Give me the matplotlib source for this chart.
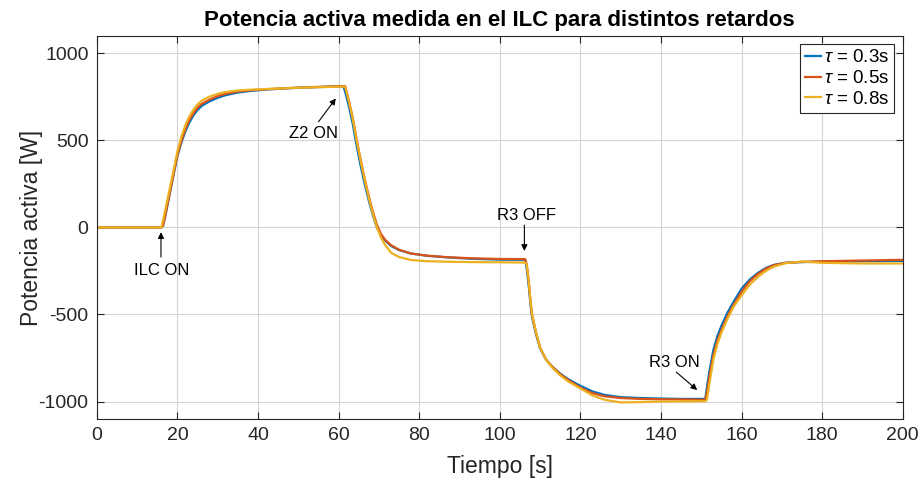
import matplotlib
matplotlib.use("Agg")
import matplotlib.pyplot as plt

plt.rcParams["font.family"] = ["Liberation Sans", "DejaVu Sans"]
plt.rcParams["mathtext.fontset"] = "custom"
plt.rcParams["mathtext.rm"] = "Liberation Sans"
plt.rcParams["mathtext.it"] = "Liberation Sans:italic"
plt.rcParams["axes.unicode_minus"] = False

# Time base shared by the three measurements [s]
time_s = [0, 16.0, 16.4, 17, 18, 19, 20, 21, 22, 23,
          24, 25, 26, 28, 30, 32, 35, 38, 42, 47,
          52, 57, 61.2, 61.6, 62.5, 63.5, 64.5, 65.5, 66.5, 67.5,
          68.5, 69.5, 70.5, 71.5, 73, 75, 78, 82, 87, 93, 100,
          106.3, 106.7, 107.2, 107.6, 108, 109, 110, 111.5, 113, 115,
          117, 120, 123, 126, 130, 135, 140, 145, 151.0, 151.4,
          152, 153, 154, 155, 156.5, 158, 160, 162, 164, 166,
          168, 171, 175, 180, 190, 200]

# Active power measured at the ILC [W]
p_tau_03 = [0, 0, 10, 70, 185, 300, 412, 490, 555, 605,
            645, 675, 698, 725, 745, 760, 775, 784, 792, 799,
            804, 808, 811, 780, 700, 595, 465, 350, 245, 152,
            70, 0, -45, -75, -106, -130, -150, -163, -172, -180, -185,
            -186, -240, -340, -440, -515, -615, -695, -760, -800, -840,
            -872, -910, -942, -962, -975, -980, -983, -985, -985, -920,
            -830, -705, -625, -565, -490, -428, -352, -300, -262, -233,
            -215, -203, -199, -197, -194, -192]

p_tau_05 = [0, 0, 10, 75, 190, 305, 420, 500, 568, 620,
            657, 688, 710, 735, 755, 768, 781, 788, 794, 800,
            805, 809, 812, 812, 732, 630, 500, 385, 275, 178,
            90, 15, -37, -70, -102, -128, -150, -162, -171, -177, -181,
            -182, -215, -314, -420, -500, -605, -690, -760, -800, -843,
            -877, -920, -952, -970, -980, -985, -987, -988, -990, -950,
            -860, -735, -650, -590, -510, -445, -370, -310, -268, -237,
            -217, -203, -198, -194, -190, -186]

p_tau_08 = [0, 0, 40, 105, 215, 325, 440, 523, 590, 640,
            678, 708, 728, 752, 768, 778, 787, 791, 795, 800,
            804, 807, 809, 809, 728, 625, 495, 378, 268, 168,
            78, 0, -58, -100, -145, -170, -187, -194, -197, -199, -200,
            -202, -215, -314, -420, -500, -605, -690, -760, -805, -850,
            -885, -925, -965, -990, -1005, -1003, -1000, -999, -998, -990,
            -900, -760, -670, -605, -525, -457, -390, -330, -285, -250,
            -225, -205, -196, -203, -207, -207]

series_labels = [r"$\tau$ = 0.3s", r"$\tau$ = 0.5s", r"$\tau$ = 0.8s"]
series_colors = ["#0072BD", "#D95319", "#EDB120"]

# Event annotations: (label, text position, arrow tail, arrow tip) in data units
events = [
    ("ILC ON", (16.2, -249), (15.9, -170), (15.9, -27)),
    ("Z2 ON", (53.7, 538), (55.0, 607), (59.3, 741)),
    ("R3 OFF", (106.7, 70), (106.1, 13), (106.1, -135)),
    ("R3 ON", (143.3, -774), (143.8, -831), (149.0, -934)),
]

fig = plt.figure(figsize=(9.23, 4.86), dpi=100)
ax = fig.add_axes([0.105, 0.138, 0.873, 0.788])

for values, label, color in zip([p_tau_03, p_tau_05, p_tau_08], series_labels, series_colors):
    ax.plot(time_s, values, color=color, lw=1.6, label=label)

for text, txt_pos, tail, tip in events:
    ax.text(txt_pos[0], txt_pos[1], text, fontsize=12, ha="center", va="center", color="#000000")
    ax.annotate("", xy=tip, xytext=tail,
                arrowprops=dict(arrowstyle="-|>", color="black", lw=0.8,
                                mutation_scale=9, shrinkA=0, shrinkB=0))

ax.set_xlim(0, 200)
ax.set_ylim(-1100, 1100)
ax.set_xticks(range(0, 201, 20))
ax.set_yticks([-1000, -500, 0, 500, 1000])
ax.grid(True, color="#d4d4d4", lw=0.8)
ax.set_axisbelow(True)
ax.tick_params(direction="in", top=True, right=True, length=5, width=0.8,
               labelsize=14, colors="#262626", pad=6)
for spine in ax.spines.values():
    spine.set_color("#262626")
    spine.set_linewidth(0.8)

ax.set_xlabel("Tiempo [s]", fontsize=16.5, color="#262626", labelpad=8)
ax.set_ylabel("Potencia activa [W]", fontsize=16.5, color="#262626", labelpad=-3)
ax.set_title("Potencia activa medida en el ILC para distintos retardos",
             fontsize=16, fontweight="bold", pad=7)

leg = ax.legend(loc="upper right", fontsize=13.5, handlelength=0.85, handletextpad=0.2,
                borderpad=0.25, labelspacing=0.2, borderaxespad=0.45, fancybox=False,
                framealpha=1, edgecolor="#262626")
leg.get_frame().set_linewidth(0.8)

fig.savefig("out.png", dpi=100)
